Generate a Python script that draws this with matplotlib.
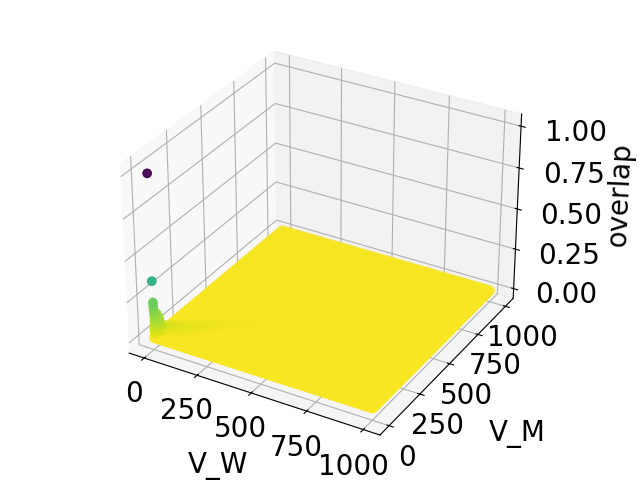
import numpy as np
import matplotlib
matplotlib.use("Agg")
import matplotlib.pyplot as plt

# values sampled on both axes, the big flat part sits at overlap about 0
grid_vals = [1, 10, 20, 30, 40, 50, 60, 70, 80, 90, 100, 110, 120, 130, 140, 150, 160, 170, 180, 190,
             200, 210, 220, 230, 240, 250, 260, 270, 280, 290, 300, 310, 320, 330, 340, 350, 360, 370,
             380, 390, 400, 410, 420, 430, 440, 450, 460, 470, 480, 490, 500, 510, 520, 530, 540, 550,
             560, 570, 580, 590, 600, 610, 620, 630, 640, 650, 660, 670, 680, 690, 700, 710, 720, 730,
             740, 750, 760, 770, 780, 790, 800, 810, 820, 830, 840, 850, 860, 870, 880, 890, 900, 910,
             920, 930, 940, 950, 960, 970, 980, 990, 1000]
flat_overlap = 0.01

# column of points near the corner, V_W about the same as V_M
corner_w = [1, 1, 2, 2, 3, 4, 4, 5, 6, 7, 8, 9, 10, 3, 6, 8, 10, 12, 2, 4, 6, 3, 5, 8, 2, 5,
            12, 18, 22, 16, 24, 20, 28, 14, 26]
corner_m = [1, 2, 2, 3, 3, 3, 4, 5, 6, 6, 8, 8, 10, 6, 3, 12, 7, 9, 5, 2, 8, 7, 2, 5, 8, 4,
            10, 14, 12, 20, 18, 10, 22, 6, 8]
corner_o = [1.0, 0.36, 0.23, 0.21, 0.19, 0.17, 0.16, 0.15, 0.14, 0.13, 0.12, 0.11, 0.1, 0.12, 0.11,
            0.09, 0.09, 0.08, 0.08, 0.07, 0.07, 0.06, 0.05, 0.05, 0.04, 0.03,
            0.16, 0.14, 0.12, 0.12, 0.1, 0.1, 0.08, 0.08, 0.06]

# greener strip running out of the corner along the diagonal
diag_w = [10, 25, 40, 55, 70, 90, 110, 130, 150, 175, 200, 230, 260, 290,
          25, 45, 65, 85, 110, 135, 160, 190, 10, 25, 40, 60, 80, 105, 130, 160]
diag_m = [10, 25, 40, 55, 70, 90, 110, 130, 150, 175, 200, 230, 260, 290,
          10, 25, 40, 60, 85, 110, 135, 165, 25, 45, 65, 85, 110, 135, 160, 190]
diag_o = [0.1, 0.09, 0.08, 0.075, 0.07, 0.06, 0.055, 0.05, 0.045, 0.04, 0.035, 0.03, 0.025, 0.02,
          0.07, 0.06, 0.05, 0.045, 0.04, 0.035, 0.03, 0.025, 0.07, 0.06, 0.05, 0.045, 0.04, 0.035, 0.03, 0.025]

xx, yy = np.meshgrid(grid_vals, grid_vals)

plt.rcParams["font.size"] = 20

fig = plt.figure(figsize=(6.4, 4.8), dpi=100)
ax = fig.add_subplot(projection="3d")
ax.set_position([0.033, 0.035, 0.93, 0.93])
ax.computed_zorder = False
ax.scatter(xx.ravel(), yy.ravel(), np.full(xx.size, flat_overlap), c=np.full(xx.size, flat_overlap),
           cmap="viridis_r", vmin=0, vmax=1, s=40, zorder=1)
ax.scatter(diag_w, diag_m, diag_o, c=diag_o, cmap="viridis_r", vmin=0, vmax=1, s=50, zorder=2,
           depthshade=False, alpha=0.35, linewidths=0)
ax.scatter(corner_w, corner_m, corner_o, c=corner_o, cmap="viridis_r", vmin=0, vmax=1, s=36, zorder=3,
           depthshade=False, alpha=0.95)

ax.set_xlabel("V_W", labelpad=16)
ax.set_ylabel("V_M", labelpad=24)
ax.set_zlabel("overlap", labelpad=25)
ax.set_xticks([0, 250, 500, 750, 1000])
ax.set_yticks([0, 250, 500, 750, 1000])
ax.set_zticks([0, 0.25, 0.5, 0.75, 1.0])
ax.tick_params(axis="z", pad=16)

plt.savefig("out.png")
